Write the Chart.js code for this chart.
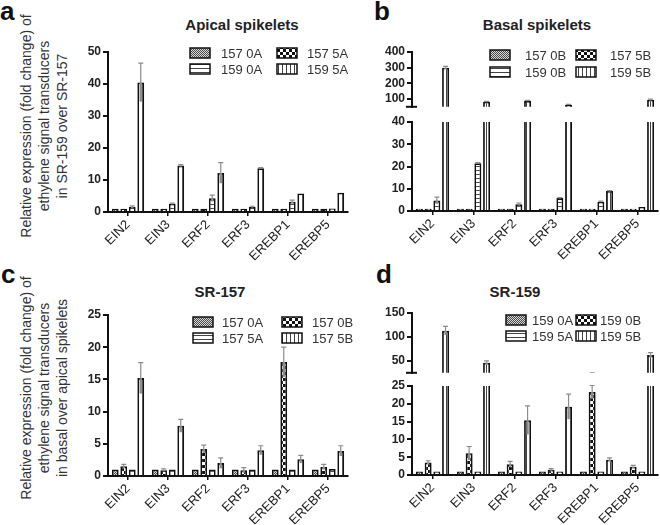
<!DOCTYPE html>
<html>
<head>
<meta charset="utf-8">
<script src="https://cdn.jsdelivr.net/npm/chart.js@4.4.1/dist/chart.umd.min.js"></script>
<style>
html, body { margin: 0; padding: 0; background: #fff; overflow: hidden; }
#fig { position: relative; width: 660px; height: 525px; overflow: hidden; font-family: 'Liberation Sans', Arial, sans-serif; }
canvas { position: absolute; }
.lbl { position: absolute; font-weight: bold; font-size: 26px; line-height: 26px; color: #111; }
.ttl { position: absolute; font-weight: bold; font-size: 15px; line-height: 15px; color: #222; transform: translateX(-50%); white-space: nowrap; }
.ytl { position: absolute; width: 250px; text-align: center; font-size: 14px; line-height: 18px; color: #333;
       transform: translate(-50%, -50%) rotate(-90deg); white-space: nowrap; }
</style>
</head>
<body>
<div id="fig">
  <div class="lbl" style="left:0px;top:-2px">a</div>
  <div class="lbl" style="left:374px;top:-2px">b</div>
  <div class="lbl" style="left:1px;top:261px">c</div>
  <div class="lbl" style="left:376px;top:261px">d</div>

  <div class="ttl" style="left:242px;top:17px">Apical spikelets</div>
  <div class="ttl" style="left:537px;top:17px">Basal spikelets</div>
  <div class="ttl" style="left:220px;top:284px">SR-157</div>
  <div class="ttl" style="left:515px;top:284px">SR-159</div>

  <div class="ytl" style="left:44px;top:126px">Relative expression (fold change) of<br>ethylene signal transducers<br>in SR-159 over SR-157</div>
  <div class="ytl" style="left:44px;top:388px">Relative expression (fold change) of<br>ethylene signal transducers<br>in basal over apical spikelets</div>

  <canvas id="chartA" width="300" height="227" style="left:58px;top:40px"></canvas>
  <canvas id="chartBTop" width="298" height="76" style="left:362px;top:40px"></canvas>
  <canvas id="chartBBottom" width="298" height="156" style="left:362px;top:110px"></canvas>
  <canvas id="chartC" width="300" height="228" style="left:58px;top:303px"></canvas>
  <canvas id="chartDTop" width="298" height="81" style="left:362px;top:301px"></canvas>
  <canvas id="chartDBottom" width="298" height="156" style="left:362px;top:374px"></canvas>
</div>

<script>
// genes on the x axis
const genes = ['EIN2', 'EIN3', 'ERF2', 'ERF3', 'EREBP1', 'EREBP5'];

// a - apical spikelets, SR-159 over SR-157
const a157_0A = [1, 1, 1, 1, 1, 1];
const a157_5A = [1, 1, 1, 1, 1, 1];
const a159_0A = [1.6, 2.6, 4.3, 1.6, 3.2, 1.1];
const a159_5A = [40.5, 14.5, 12.2, 13.7, 5.8, 6.0];
const a159_0A_err = [0.3, 0.2, 1.0, 0.2, 0.5, 0];
const a159_5A_err = [6.0, 0.3, 3.2, 0.2, 0, 0];
const aTicks = [0, 10, 20, 30, 40, 50];

// b - basal spikelets, SR-159 over SR-157 (broken axis)
const b157_0B = [1, 1, 1, 1, 1, 1];
const b157_5B = [1, 1, 1, 1, 1, 1];
const b159_0B = [4.7, 21.5, 3.0, 5.8, 4.2, 1.8];
const b159_5B = [300, 82, 88, 63, 9, 95];
const b159_0B_err = [1.5, 0.3, 0.6, 0.2, 0.2, 0];
const b159_5B_err = [8, 3, 3, 2, 0.2, 4];
const bTopTicks = [100, 200, 300, 400];
const bBottomTicks = [0, 10, 20, 30, 40];

// c - SR-157, basal over apical
const c157_0A = [1, 1, 1, 1, 1, 1];
const c157_0B = [1.5, 0.9, 4.2, 0.9, 17.7, 1.4];
const c157_5A = [1, 1, 1, 1, 1, 1.1];
const c157_5B = [15.2, 7.8, 2.0, 4.0, 2.6, 3.9];
const c157_0B_err = [0.3, 0.2, 0.6, 0.4, 2.3, 0.4];
const c157_5B_err = [2.4, 1.0, 0.8, 0.7, 0.6, 0.8];
const cTicks = [0, 5, 10, 15, 20, 25];

// d - SR-159, basal over apical (broken axis)
const d159_0A = [1, 1, 1, 1, 1, 1];
const d159_0B = [3.5, 6.1, 3.0, 1.5, 23.3, 2.3];
const d159_5A = [1, 1, 1, 1, 1, 1];
const d159_5B = [113, 46, 15.4, 19.2, 4.3, 62];
const d159_0B_err = [0.5, 1.9, 0.8, 0.3, 1.9, 0.4];
const d159_5B_err = [9, 4, 4, 3.5, 0.5, 5];
const dTopTicks = [50, 100, 150];
const dBottomTicks = [0, 5, 10, 15, 20, 25];

Chart.defaults.font.family = "'Liberation Sans', Arial, sans-serif";
Chart.defaults.color = '#222';

// fill patterns: fine dots, checkerboard, horizontal lines, vertical lines
function makePattern(kind) {
    const c = document.createElement('canvas');
    const g = c.getContext('2d');
    if (kind === 'dots') {
        c.width = 2; c.height = 2;
        g.fillStyle = '#d8d8d8'; g.fillRect(0, 0, 2, 2);
        g.fillStyle = '#4a4a4a'; g.fillRect(0, 0, 1, 1); g.fillRect(1, 1, 1, 1);
    } else if (kind === 'checker') {
        c.width = 6; c.height = 6;
        g.fillStyle = '#fff'; g.fillRect(0, 0, 6, 6);
        g.fillStyle = '#111'; g.fillRect(0, 0, 3, 3); g.fillRect(3, 3, 3, 3);
    } else if (kind === 'hlines') {
        c.width = 4; c.height = 4;
        g.fillStyle = '#fff'; g.fillRect(0, 0, 4, 4);
        g.fillStyle = '#444'; g.fillRect(0, 0, 4, 1);
    } else {
        c.width = 4; c.height = 4;
        g.fillStyle = '#fff'; g.fillRect(0, 0, 4, 4);
        g.fillStyle = '#444'; g.fillRect(0, 0, 1, 4);
    }
    return g.createPattern(c, 'repeat');
}
const patterns = ['dots', 'checker', 'hlines', 'vlines'].map(makePattern);

// 2x2 legend drawn inside the canvas (page coordinates in options)
const quadLegend = {
    id: 'quadLegend',
    afterDraw(chart, args, opts) {
        if (!opts || !opts.cols) return;
        const ctx = chart.ctx;
        const ox = chart.canvas.offsetLeft, oy = chart.canvas.offsetTop;
        ctx.save();
        ctx.font = "13px 'Liberation Sans', Arial, sans-serif";
        ctx.textBaseline = 'middle';
        chart.data.datasets.forEach((ds, i) => {
            const col = opts.cols[i % 2];
            const y = opts.rows[Math.floor(i / 2)] - oy;
            const bx = col.box - ox;
            ctx.fillStyle = ds.backgroundColor;
            ctx.fillRect(bx, y - 5, 20, 10);
            ctx.strokeStyle = '#111';
            ctx.lineWidth = 1.5;
            ctx.strokeRect(bx, y - 5, 20, 10);
            ctx.fillStyle = '#333';
            ctx.fillText(ds.label, col.text - ox, y + 1);
        });
        ctx.restore();
    }
};

// error bars (mean +/- sd) in grey
const errBars = {
    id: 'errBars',
    afterDatasetsDraw(chart) {
        const ctx = chart.ctx, area = chart.chartArea, y = chart.scales.y;
        ctx.save();
        ctx.beginPath();
        ctx.rect(area.left, area.top - 1, area.right - area.left, area.bottom - area.top + 1);
        ctx.clip();
        ctx.strokeStyle = '#8c8c8c';
        chart.data.datasets.forEach((ds, i) => {
            if (!ds.errors) return;
            const meta = chart.getDatasetMeta(i);
            ds.errors.forEach((e, j) => {
                if (!e) return;
                const x = meta.data[j].x, v = ds.data[j];
                const yv = y.getPixelForValue(v);
                const yt = y.getPixelForValue(v + e);
                const yb = y.getPixelForValue(Math.max(v - e, 0));
                ctx.lineWidth = 2.4;
                ctx.beginPath(); ctx.moveTo(x, yb); ctx.lineTo(x, yv); ctx.stroke();
                ctx.lineWidth = 1.2;
                ctx.beginPath();
                ctx.moveTo(x, yv); ctx.lineTo(x, yt);
                ctx.moveTo(x - 2.5, yt); ctx.lineTo(x + 2.5, yt);
                ctx.stroke();
            });
        });
        ctx.restore();
    }
};

// short cap at the lower end of an upper axis segment
const axisCap = {
    id: 'axisCap',
    afterDraw(chart, args, opts) {
        if (!opts || !opts.on) return;
        const ctx = chart.ctx, a = chart.chartArea;
        ctx.save();
        ctx.strokeStyle = '#111';
        ctx.lineWidth = 2;
        ctx.beginPath();
        ctx.moveTo(a.left - 6, a.bottom);
        ctx.lineTo(a.left + 5, a.bottom);
        ctx.stroke();
        ctx.restore();
    }
};

function makeChart(id, cfg) {
    return new Chart(document.getElementById(id), {
        type: 'bar',
        data: {
            labels: genes,
            datasets: cfg.series.map((s, i) => ({
                label: s.label,
                data: s.data,
                errors: s.err,
                backgroundColor: patterns[i],
                borderColor: '#111',
                borderWidth: 1.8,
                borderSkipped: 'start',
                categoryPercentage: 0.85,
                barPercentage: 0.8,
                clip: 0
            }))
        },
        options: {
            responsive: false,
            animation: false,
            layout: { padding: { top: 12, right: cfg.padRight, bottom: cfg.showX ? 0 : 8, left: 0 } },
            plugins: {
                legend: { display: false },
                tooltip: { enabled: false },
                quadLegend: cfg.legend || {},
                axisCap: { on: !!cfg.cap }
            },
            scales: {
                x: {
                    display: cfg.showX,
                    border: { display: true, color: '#111', width: 2 },
                    grid: { display: true, drawOnChartArea: false, offset: false, tickLength: 4, color: '#111', lineWidth: 1.5 },
                    ticks: { minRotation: 45, maxRotation: 45, font: { size: 13 }, color: '#222', padding: 1 },
                    afterFit: s => { if (cfg.showX) s.height = 55; }
                },
                y: {
                    min: cfg.min,
                    max: cfg.max,
                    afterBuildTicks: s => { s.ticks = cfg.ticks.map(v => ({ value: v })); },
                    border: { display: true, color: '#111', width: 2 },
                    grid: { display: true, drawOnChartArea: false, tickLength: 5, color: '#111', lineWidth: 2 },
                    ticks: { font: { size: 12, weight: 'bold' }, color: '#222', padding: 2 },
                    afterFit: s => { s.width = 50; }
                }
            }
        },
        plugins: [quadLegend, errBars, axisCap]
    });
}

const aSeries = [
    { label: '157 0A', data: a157_0A },
    { label: '157 5A', data: a157_5A },
    { label: '159 0A', data: a159_0A, err: a159_0A_err },
    { label: '159 5A', data: a159_5A, err: a159_5A_err }
];
const bSeries = [
    { label: '157 0B', data: b157_0B },
    { label: '157 5B', data: b157_5B },
    { label: '159 0B', data: b159_0B, err: b159_0B_err },
    { label: '159 5B', data: b159_5B, err: b159_5B_err }
];
const cSeries = [
    { label: '157 0A', data: c157_0A },
    { label: '157 0B', data: c157_0B, err: c157_0B_err },
    { label: '157 5A', data: c157_5A },
    { label: '157 5B', data: c157_5B, err: c157_5B_err }
];
const dSeries = [
    { label: '159 0A', data: d159_0A },
    { label: '159 0B', data: d159_0B, err: d159_0B_err },
    { label: '159 5A', data: d159_5A },
    { label: '159 5B', data: d159_5B, err: d159_5B_err }
];

makeChart('chartA', {
    series: aSeries, min: 0, max: 50, ticks: aTicks, showX: true, padRight: 10,
    legend: { cols: [{ box: 190, text: 221 }, { box: 277, text: 307 }], rows: [53, 69] }
});
makeChart('chartBTop', {
    series: bSeries, min: 50, max: 400, ticks: bTopTicks, showX: false, padRight: 2, cap: true,
    legend: { cols: [{ box: 490, text: 525 }, { box: 576, text: 610 }], rows: [55, 72] }
});
makeChart('chartBBottom', {
    series: bSeries, min: 0, max: 40, ticks: bBottomTicks, showX: true, padRight: 2
});
makeChart('chartC', {
    series: cSeries, min: 0, max: 25, ticks: cTicks, showX: true, padRight: 10,
    legend: { cols: [{ box: 193, text: 222 }, { box: 282, text: 312 }], rows: [322, 338] }
});
makeChart('chartDTop', {
    series: dSeries, min: 25, max: 150, ticks: dTopTicks, showX: false, padRight: 2, cap: true,
    legend: { cols: [{ box: 506, text: 532 }, { box: 576, text: 600 }], rows: [320, 336] }
});
makeChart('chartDBottom', {
    series: dSeries, min: 0, max: 25, ticks: dBottomTicks, showX: true, padRight: 2
});
</script>
</body>
</html>
